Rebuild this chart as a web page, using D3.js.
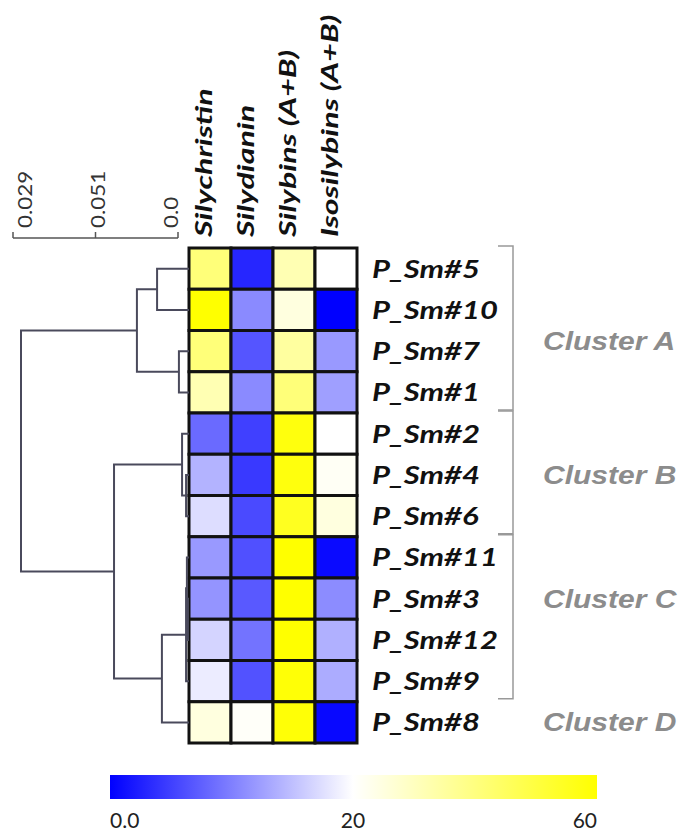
<!DOCTYPE html>
<html>
<head>
<meta charset="utf-8">
<script src="https://d3js.org/d3.v7.min.js"></script>
<style>
  body { margin: 0; background: #fff; }
</style>
</head>
<body>
<svg id="chart" width="681" height="831"></svg>
<script>
// rows in dendrogram order (top to bottom)
const samples = ["P_Sm#5","P_Sm#10","P_Sm#7","P_Sm#1","P_Sm#2","P_Sm#4","P_Sm#6","P_Sm#11","P_Sm#3","P_Sm#12","P_Sm#9","P_Sm#8"];
const compounds = ["Silychristin","Silydianin","Silybins (A+B)","Isosilybins (A+B)"];

// estimated values per row, same order as compounds
const values = [
  [41, 3, 32, 20],
  [60, 10.8, 25, 0],
  [41, 6.7, 35, 12],
  [32, 10.8, 41, 12.5],
  [8.3, 5, 58, 20],
  [14, 4.5, 58, 21.5],
  [17.3, 5.8, 55, 25],
  [12, 6.3, 60, 0.8],
  [11.6, 7, 60, 11],
  [16.6, 9, 60, 13.8],
  [18.5, 6.4, 59, 13.5],
  [25, 21, 59, 0.6]
];

// linkage steps: [left, right, distance]; numbers refer to earlier steps
const linkage = [
  ["P_Sm#3", "P_Sm#12", 0.0005],   // 0
  ["P_Sm#11", 0, 0.0010],          // 1
  [1, "P_Sm#9", 0.0014],           // 2
  ["P_Sm#4", "P_Sm#6", 0.0014],    // 3
  ["P_Sm#2", 3, 0.0033],           // 4
  ["P_Sm#7", "P_Sm#1", 0.0048],    // 5
  [2, "P_Sm#8", 0.0129],           // 6
  ["P_Sm#5", "P_Sm#10", 0.0152],   // 7
  [7, 5, 0.0248],                  // 8
  [4, 6, 0.0357],                  // 9
  [8, 9, 0.0800]                   // 10
];

const distTicks = ["0.029", "0.051", "0.0"];

const clusters = [
  {name: "Cluster A", first: "P_Sm#5", last: "P_Sm#1", labelRow: 2.25, bracket: true},
  {name: "Cluster B", first: "P_Sm#2", last: "P_Sm#6", labelRow: 5.5, bracket: true},
  {name: "Cluster C", first: "P_Sm#11", last: "P_Sm#9", labelRow: 8.5, bracket: true},
  {name: "Cluster D", first: "P_Sm#8", last: "P_Sm#8", labelRow: 11.5, bracket: false}
];

const legendStops = [0, 20, 60];

const svg = d3.select("#chart");
const labelFont = "Lato, 'Open Sans', sans-serif";

const x = d3.scaleBand().domain(compounds).range([189, 357]);
const y = d3.scaleBand().domain(samples).range([248, 743]);
const color = d3.scaleLinear().domain([0, 20, 60]).range(["#0000ff", "#ffffff", "#ffff00"]);
const dist = d3.scaleLinear().domain([0, 0.08]).range([189, 21]);

// heatmap
const cells = [];
values.forEach((row, i) => row.forEach((v, j) => cells.push({s: samples[i], c: compounds[j], v: v})));

svg.append("g").selectAll("rect").data(cells).join("rect")
  .attr("x", d => x(d.c)).attr("y", d => y(d.s))
  .attr("width", x.bandwidth()).attr("height", y.bandwidth())
  .attr("fill", d => color(d.v))
  .attr("stroke", "#111").attr("stroke-width", 3);

// column headers
svg.append("g").selectAll("text").data(compounds).join("text")
  .attr("transform", d => "translate(" + (x(d) + x.bandwidth() / 2 + 2) + ",237) rotate(-90) scale(1.4,1)")
  .style("font-family", labelFont)
  .attr("font-size", 23).attr("font-weight", "bold").attr("font-style", "italic")
  .attr("fill", "#111")
  .text(d => d);

// row labels
svg.append("g").selectAll("text").data(samples).join("text")
  .attr("transform", d => "translate(372," + (y(d) + y.bandwidth() / 2 + 9) + ") scale(1.24,1)")
  .style("font-family", labelFont)
  .attr("font-size", 25).attr("font-weight", "bold").attr("font-style", "italic")
  .attr("fill", "#111")
  .text(d => d);

// dendrogram
const nodes = linkage.map(() => null);
function pos(k) {
  if (typeof k === "string") return {x: dist(0), y: y(k) + y.bandwidth() / 2};
  return nodes[k];
}
const dg = svg.append("g").attr("fill", "none").attr("stroke", "#4a4a5c").attr("stroke-width", 2);
linkage.forEach((m, i) => {
  const a = pos(m[0]), b = pos(m[1]);
  const nx = dist(m[2]);
  nodes[i] = {x: nx, y: (a.y + b.y) / 2};
  dg.append("path")
    .attr("d", "M" + a.x + "," + a.y + "H" + nx + "V" + b.y + "H" + b.x);
});

// distance axis
const tickX = d3.scalePoint().domain(distTicks).range([13, 178]);
const labX = d3.scalePoint().domain(distTicks).range([32, 178]);
const ax = svg.append("g");
ax.append("line").attr("x1", 13).attr("x2", 178).attr("y1", 238).attr("y2", 238)
  .attr("stroke", "#555").attr("stroke-width", 1.5);
ax.selectAll("line.tick").data(distTicks).join("line").attr("class", "tick")
  .attr("x1", d => tickX(d)).attr("x2", d => tickX(d)).attr("y1", 238).attr("y2", 232)
  .attr("stroke", "#555").attr("stroke-width", 1.5);
ax.selectAll("text").data(distTicks).join("text")
  .attr("transform", d => "translate(" + labX(d) + ",228) rotate(-90) scale(1.12,1)")
  .style("font-family", labelFont)
  .attr("font-size", 20).attr("fill", "#333")
  .text(d => d);

// cluster brackets and labels
const br = svg.append("g").attr("fill", "none").attr("stroke", "#999").attr("stroke-width", 1.5);
clusters.filter(c => c.bracket).forEach(c => {
  const y0 = y(c.first) - 2, y1 = y(c.last) + y.bandwidth() - 3;
  br.append("path").attr("d", "M498," + y0 + "H513V" + y1 + "H498");
});
svg.append("g").selectAll("text").data(clusters).join("text")
  .attr("transform", d => "translate(543," + (y.range()[0] + d.labelRow * y.step() + 9) + ") scale(1.2,1)")
  .style("font-family", "'Liberation Sans', Arial, sans-serif")
  .attr("font-size", 25).attr("font-weight", "bold").attr("font-style", "italic")
  .attr("fill", "#8c8c8c")
  .text(d => d.name);

// colour legend
const lx = d3.scaleLinear().domain(legendStops).range([110, 353, 597]);
const grad = svg.append("defs").append("linearGradient").attr("id", "lg");
grad.selectAll("stop").data(legendStops).join("stop")
  .attr("offset", d => (lx(d) - 110) / (597 - 110))
  .attr("stop-color", d => color(d));
svg.append("rect").attr("x", 110).attr("y", 775).attr("width", 487).attr("height", 24)
  .attr("fill", "url(#lg)");
svg.append("g").selectAll("text").data(legendStops).join("text")
  .attr("x", d => lx(d)).attr("y", 828)
  .attr("text-anchor", (d, i) => i === 0 ? "start" : i === legendStops.length - 1 ? "end" : "middle")
  .style("font-family", labelFont)
  .attr("font-size", 21).attr("fill", "#222")
  .text((d, i) => i === 0 ? "0.0" : d);
</script>
</body>
</html>
